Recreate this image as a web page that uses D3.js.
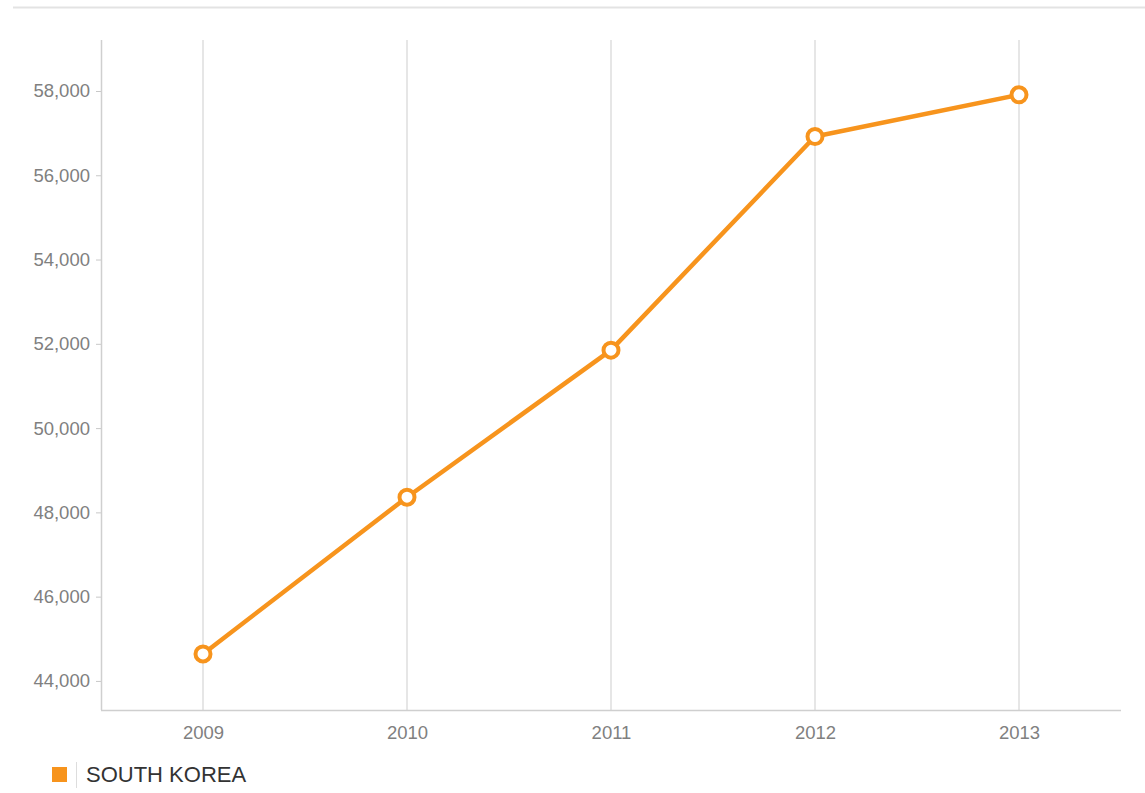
<!DOCTYPE html>
<html>
<head>
<meta charset="utf-8">
<script src="https://cdnjs.cloudflare.com/ajax/libs/d3/7.8.5/d3.min.js"></script>
<style>
  body { margin: 0; background: #fff; font-family: "Liberation Sans", Arial, sans-serif; }
  svg { display: block; }
</style>
</head>
<body>
<svg id="chart" width="1145" height="793"></svg>
<script>
var years = ["2009", "2010", "2011", "2012", "2013"];
var values = [44640, 48360, 51850, 56920, 57910];
var yTicks = [44000, 46000, 48000, 50000, 52000, 54000, 56000, 58000];
var seriesName = "SOUTH KOREA";

var orange = "#f7941d";
var plotLeft = 101, plotRight = 1121, plotTop = 40, plotBottom = 710;

var svg = d3.select("#chart");

// thin border at the very top
svg.append("line")
    .attr("x1", 13).attr("x2", 1145)
    .attr("y1", 7.5).attr("y2", 7.5)
    .attr("stroke", "#e3e3e3").attr("stroke-width", 2);

var x = d3.scalePoint().domain(years).range([plotLeft, plotRight]).padding(0.5);
var y = d3.scaleLinear().domain([43310, 59210]).range([plotBottom, plotTop]);

// vertical grid lines
svg.append("g").selectAll("line")
    .data(years)
    .enter().append("line")
    .attr("x1", function(d) { return x(d); })
    .attr("x2", function(d) { return x(d); })
    .attr("y1", plotTop).attr("y2", plotBottom)
    .attr("stroke", "#dedede").attr("stroke-width", 1.5);

// y axis
var yAxis = svg.append("g")
    .attr("transform", "translate(" + plotLeft + ",0)")
    .call(d3.axisLeft(y).tickValues(yTicks).tickSize(5).tickPadding(6)
        .tickFormat(d3.format(",")));
yAxis.select(".domain").remove();
yAxis.selectAll(".tick line").attr("stroke", "#c8c8c8");
yAxis.selectAll(".tick text")
    .attr("fill", "#808080").style("font-size", "18.5px")
    .style("font-family", "'Liberation Sans', Arial, sans-serif");

svg.append("line")
    .attr("x1", plotLeft + 0.5).attr("x2", plotLeft + 0.5)
    .attr("y1", plotTop).attr("y2", plotBottom)
    .attr("stroke", "#cfcfcf").attr("stroke-width", 1.5);

// x axis
var xAxis = svg.append("g")
    .attr("transform", "translate(0," + plotBottom + ")")
    .call(d3.axisBottom(x).tickSize(0).tickPadding(16));
xAxis.select(".domain").remove();
xAxis.selectAll(".tick text")
    .attr("fill", "#808080").style("font-size", "18.5px")
    .style("font-family", "'Liberation Sans', Arial, sans-serif");

svg.append("line")
    .attr("x1", plotLeft).attr("x2", plotRight)
    .attr("y1", plotBottom + 0.5).attr("y2", plotBottom + 0.5)
    .attr("stroke", "#cfcfcf").attr("stroke-width", 1.5);

// series line
var points = years.map(function(d, i) { return {year: d, value: values[i]}; });
var line = d3.line()
    .x(function(d) { return x(d.year); })
    .y(function(d) { return y(d.value); });

svg.append("path")
    .datum(points)
    .attr("d", line)
    .attr("fill", "none")
    .attr("stroke", orange)
    .attr("stroke-width", 4.5)
    .attr("stroke-linejoin", "round");

svg.append("g").selectAll("circle")
    .data(points)
    .enter().append("circle")
    .attr("cx", function(d) { return x(d.year); })
    .attr("cy", function(d) { return y(d.value); })
    .attr("r", 7.5)
    .attr("fill", "#fff")
    .attr("stroke", orange)
    .attr("stroke-width", 4);

// legend
var legend = svg.append("g");
legend.append("rect")
    .attr("x", 52).attr("y", 767).attr("width", 15).attr("height", 15)
    .attr("fill", orange);
legend.append("line")
    .attr("x1", 76.5).attr("x2", 76.5).attr("y1", 762).attr("y2", 788)
    .attr("stroke", "#ddd").attr("stroke-width", 1);
legend.append("text")
    .attr("x", 86).attr("y", 782)
    .attr("fill", "#333")
    .style("font-size", "22px")
    .text(seriesName);
</script>
</body>
</html>
